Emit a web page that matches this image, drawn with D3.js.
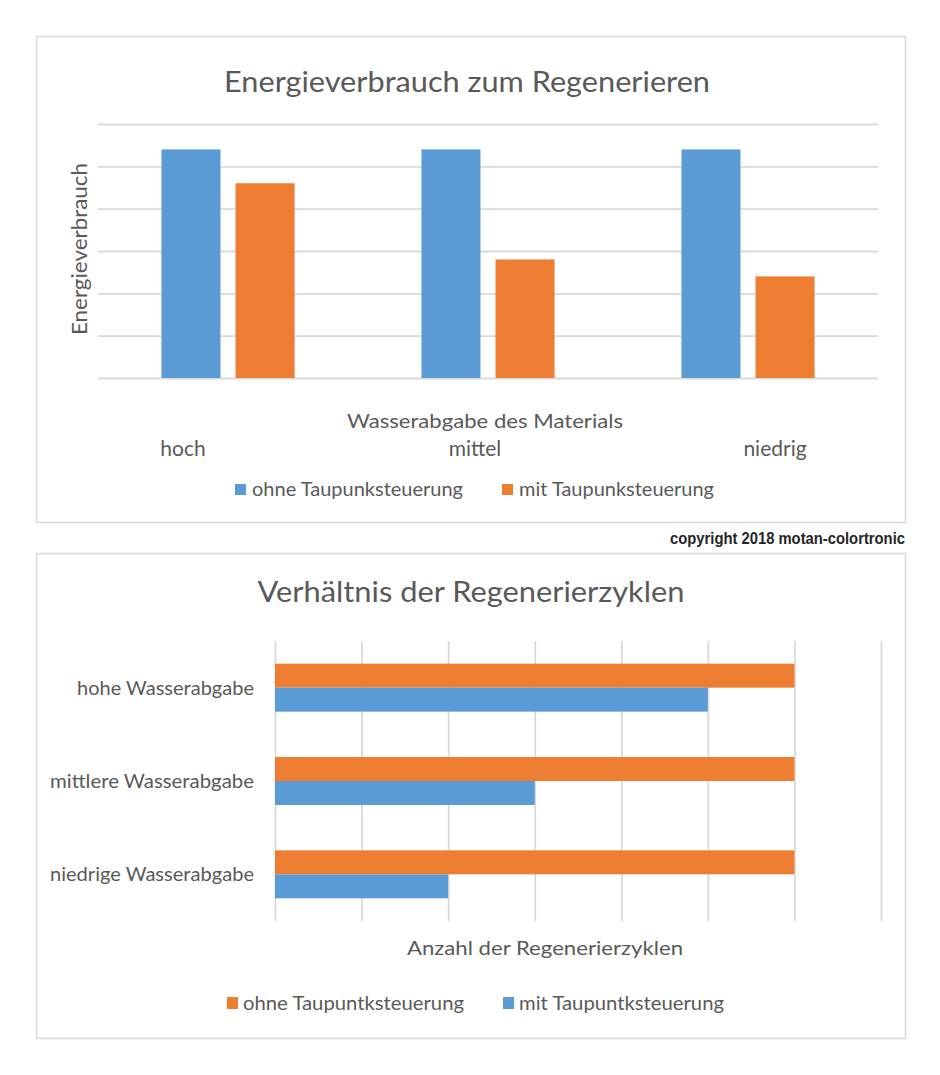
<!DOCTYPE html>
<html>
<head>
<meta charset="utf-8">
<script src="https://cdn.jsdelivr.net/npm/d3@7"></script>
<style>
  html, body { margin: 0; padding: 0; background: #fff; }
  svg { display: block; font-family: Lato, "Open Sans", sans-serif; }
</style>
</head>
<body>
<svg id="chart" width="940" height="1075"></svg>
<script>
// ---------- data ----------
const topCategories = ["hoch", "mittel", "niedrig"];
const topSeries = ["ohne Taupunksteuerung", "mit Taupunksteuerung"];
const topOhne = [5.4, 5.4, 5.4];
const topMit = [4.6, 2.8, 2.4];
const topTicks = [0, 1, 2, 3, 4, 5, 6];

const bottomCategories = ["hohe Wasserabgabe", "mittlere Wasserabgabe", "niedrige Wasserabgabe"];
const bottomSeries = ["ohne Taupuntksteuerung", "mit Taupuntksteuerung"];
const bottomOhne = [6, 6, 6];
const bottomMit = [5, 3, 2];
const bottomTicks = [0, 1, 2, 3, 4, 5, 6, 7];

// ---------- style ----------
const BLUE = "#5b9bd5", ORANGE = "#ed7d31", TEXT = "#595959", GRID = "#d9d9d9";

const svg = d3.select("#chart");

function fit(sel, w) {
  sel.attr("textLength", w).attr("lengthAdjust", "spacingAndGlyphs");
  return sel;
}

// panels
svg.append("rect").attr("x", 36.5).attr("y", 36.5).attr("width", 869).attr("height", 486)
  .attr("fill", "#fff").attr("stroke", GRID).attr("stroke-width", 1.5);
svg.append("rect").attr("x", 36.5).attr("y", 553.5).attr("width", 869).attr("height", 485)
  .attr("fill", "#fff").attr("stroke", GRID).attr("stroke-width", 1.5);

// ================= TOP CHART =================
const topData = topCategories.map((c, i) => ({ cat: c, values: [
  { key: topSeries[0], v: topOhne[i], color: BLUE },
  { key: topSeries[1], v: topMit[i], color: ORANGE }
]}));

const tx0 = d3.scaleBand().domain(topCategories).range([98, 878]).paddingInner(0.488).paddingOuter(0.244);
const tx1 = d3.scaleBand().domain(topSeries).range([0, tx0.bandwidth()]).paddingInner(0.203);
const ty = d3.scaleLinear().domain([0, 6]).range([378, 124]);

// gridlines
const tGrid = svg.append("g").attr("transform", "translate(98,0)")
  .call(d3.axisLeft(ty).tickValues(topTicks).tickSize(-780).tickFormat(""));
tGrid.select(".domain").remove();
tGrid.selectAll(".tick line").attr("stroke", GRID).attr("stroke-width", 1.8);

// bars
svg.append("g").selectAll("g").data(topData).join("g")
  .attr("transform", d => `translate(${tx0(d.cat)},0)`)
  .selectAll("rect").data(d => d.values).join("rect")
  .attr("x", d => tx1(d.key))
  .attr("width", tx1.bandwidth())
  .attr("y", d => ty(d.v))
  .attr("height", d => ty(0) - ty(d.v))
  .attr("fill", d => d.color);

// title
fit(svg.append("text").attr("x", 467).attr("y", 92).attr("text-anchor", "middle")
  .attr("font-size", 28).attr("fill", TEXT).text("Energieverbrauch zum Regenerieren"), 486);

// y axis title
fit(svg.append("text").attr("transform", "translate(87,249) rotate(-90)")
  .attr("text-anchor", "middle").attr("font-size", 21).attr("fill", TEXT)
  .text("Energieverbrauch"), 172);

// x axis title
fit(svg.append("text").attr("x", 485).attr("y", 428).attr("text-anchor", "middle")
  .attr("font-size", 20).attr("fill", TEXT).text("Wasserabgabe des Materials"), 276);

// category labels (layout offsets relative to band centers, as in the original)
const topLabelOffsets = [-45, -13, 27];
topCategories.forEach((c, i) => {
  svg.append("text")
    .attr("x", tx0(c) + tx0.bandwidth() / 2 + topLabelOffsets[i])
    .attr("y", 456).attr("text-anchor", "middle")
    .attr("font-size", 21).attr("fill", TEXT).text(c);
});

// legend
const topLegendX = [235, 502];
const topLegendW = [211, 195];
const topLegendColors = [BLUE, ORANGE];
topSeries.forEach((s, i) => {
  svg.append("rect").attr("x", topLegendX[i]).attr("y", 484).attr("width", 11).attr("height", 11)
    .attr("fill", topLegendColors[i]);
  fit(svg.append("text").attr("x", topLegendX[i] + 17).attr("y", 496)
    .attr("font-size", 19).attr("fill", TEXT).text(s), topLegendW[i]);
});

// copyright
fit(svg.append("text").attr("x", 905).attr("y", 544).attr("text-anchor", "end")
  .attr("font-family", "'Liberation Sans Narrow', 'Liberation Sans', Arial, sans-serif")
  .attr("font-weight", "bold").attr("font-size", 17).attr("fill", "#262626")
  .text("copyright 2018 motan-colortronic"), 235);

// ================= BOTTOM CHART =================
const bottomData = bottomCategories.map((c, i) => ({ cat: c, values: [
  { key: bottomSeries[0], v: bottomOhne[i], color: ORANGE },
  { key: bottomSeries[1], v: bottomMit[i], color: BLUE }
]}));

const by0 = d3.scaleBand().domain(bottomCategories).range([641, 921]).paddingInner(0.486).paddingOuter(0.243);
const by1 = d3.scaleBand().domain(bottomSeries).range([0, by0.bandwidth()]);
const bx = d3.scaleLinear().domain([0, 7]).range([275, 881]);

const bGrid = svg.append("g").attr("transform", "translate(0,921)")
  .call(d3.axisBottom(bx).tickValues(bottomTicks).tickSize(-280).tickFormat(""));
bGrid.select(".domain").remove();
bGrid.selectAll(".tick line").attr("stroke", GRID).attr("stroke-width", 1.8);

svg.append("g").selectAll("g").data(bottomData).join("g")
  .attr("transform", d => `translate(0,${by0(d.cat)})`)
  .selectAll("rect").data(d => d.values).join("rect")
  .attr("x", bx(0))
  .attr("y", d => by1(d.key))
  .attr("height", by1.bandwidth())
  .attr("width", d => bx(d.v) - bx(0))
  .attr("fill", d => d.color);

// title
fit(svg.append("text").attr("x", 471).attr("y", 602).attr("text-anchor", "middle")
  .attr("font-size", 28).attr("fill", TEXT).text("Verhältnis der Regenerierzyklen"), 427);

// category labels
const bottomLabelW = [177, 204, 204];
bottomCategories.forEach((c, i) => {
  fit(svg.append("text").attr("x", 254)
    .attr("y", by0(c) + by0.bandwidth() / 2 + 7)
    .attr("text-anchor", "end").attr("font-size", 20).attr("fill", TEXT).text(c), bottomLabelW[i]);
});

// x axis title
fit(svg.append("text").attr("x", 545).attr("y", 955).attr("text-anchor", "middle")
  .attr("font-size", 20).attr("fill", TEXT).text("Anzahl der Regenerierzyklen"), 276);

// legend
const bottomLegendX = [227, 503];
const bottomLegendW = [221, 205];
const bottomLegendColors = [ORANGE, BLUE];
bottomSeries.forEach((s, i) => {
  svg.append("rect").attr("x", bottomLegendX[i]).attr("y", 997).attr("width", 11).attr("height", 12)
    .attr("fill", bottomLegendColors[i]);
  fit(svg.append("text").attr("x", bottomLegendX[i] + 16).attr("y", 1010)
    .attr("font-size", 19).attr("fill", TEXT).text(s), bottomLegendW[i]);
});
</script>
</body>
</html>
